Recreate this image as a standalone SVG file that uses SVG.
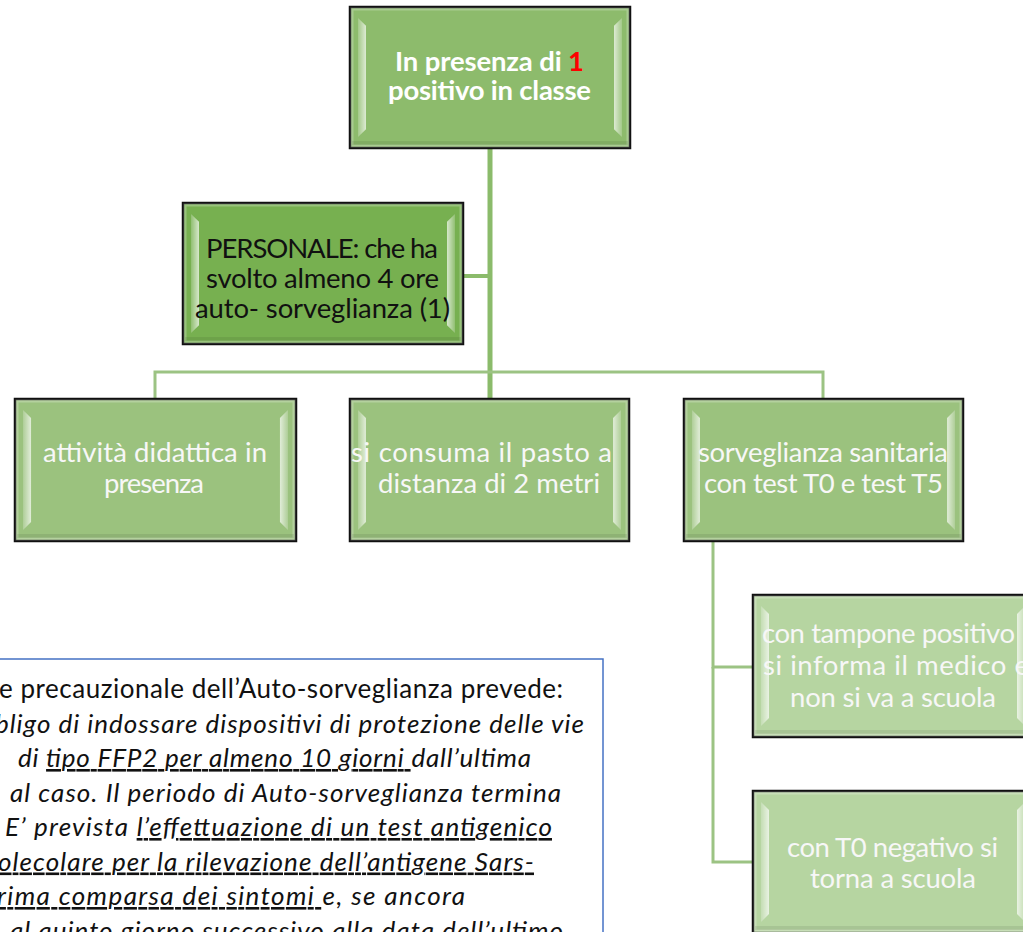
<svg xmlns="http://www.w3.org/2000/svg" xmlns:xlink="http://www.w3.org/1999/xlink" width="1023" height="932" viewBox="0 0 1023 932">
<style>
.box{stroke:#111;stroke-width:2.5}
.t{font-family:Lato,"Open Sans","Liberation Sans",sans-serif;font-size:27.5px}
.w{fill:#f7f7f7}
.k{fill:#111}
.b{font-weight:bold;fill:#fff}
.c{fill:none;stroke:#9cc383;stroke-width:3}
.bt{font-family:Lato,"Open Sans","Liberation Sans",sans-serif;font-size:26px;fill:#111}
.u{text-decoration:underline}
</style>
<defs>
<linearGradient id="gl" x1="0" y1="0" x2="1" y2="0">
<stop offset="0" stop-color="#fff" stop-opacity="0.2"/>
<stop offset="1" stop-color="#fff" stop-opacity="0.7"/>
</linearGradient>
<linearGradient id="gr" x1="1" y1="0" x2="0" y2="0">
<stop offset="0" stop-color="#fff" stop-opacity="0.2"/>
<stop offset="1" stop-color="#fff" stop-opacity="0.7"/>
</linearGradient>
<symbol id="bev" viewBox="0 0 280 142" preserveAspectRatio="none">
<rect x="2" y="2" width="276" height="138" fill="none" stroke="#fff" stroke-opacity="0.25" stroke-width="3"/>
<rect x="2" y="135" width="276" height="4" fill="#000" fill-opacity="0.08"/>
<polygon points="8,11 16,19 16,123 8,131" fill="url(#gl)"/>
<polygon points="272,11 264,19 264,123 272,131" fill="url(#gr)"/>
</symbol>
</defs>
<rect width="1023" height="932" fill="#fff"/>

<g id="connectors">
<line x1="490" y1="148" x2="490" y2="399" stroke="#8bbb6b" stroke-width="5"/>
<line x1="463" y1="276" x2="490" y2="276" stroke="#8bbb6b" stroke-width="4"/>
<polyline class="c" points="155,399 155,372 823,372 823,399"/>
<polyline class="c" points="753,667 713,667 713,541"/>
<polyline class="c" points="713,667 713,862 753,862"/>
</g>

<g id="n-top">
<rect class="box" x="350" y="7" width="280" height="141" fill="#8dbb6c"/>
<use xlink:href="#bev" x="350" y="7" width="280" height="141"/>
<text class="t b" x="395" y="71" textLength="189" font-size="28">In presenza di <tspan fill="#ff0000">1</tspan></text>
<text class="t b" x="388" y="100" textLength="203" font-size="28">positivo in classe</text>
</g>

<g id="n-personale">
<rect class="box" x="183" y="203" width="280" height="141" fill="#77b050"/>
<use xlink:href="#bev" x="183" y="203" width="280" height="141"/>
<text class="t k" x="206" y="258" textLength="232">PERSONALE: che ha</text>
<text class="t k" x="206" y="288" textLength="233">svolto almeno 4 ore</text>
<text class="t k" x="195" y="318" textLength="255">auto- sorveglianza (1)</text>
</g>

<g id="n-attivita">
<rect class="box" x="15" y="399" width="281" height="142" fill="#9bc27e"/>
<use xlink:href="#bev" x="15" y="399" width="281" height="142"/>
<text class="t w" x="43" y="462" textLength="224">attività didattica in</text>
<text class="t w" x="104" y="493" textLength="100">presenza</text>
</g>

<g id="n-pasto">
<rect class="box" x="350" y="399" width="279" height="142" fill="#9bc27e"/>
<use xlink:href="#bev" x="350" y="399" width="279" height="142"/>
<text class="t w" x="351" y="462" textLength="261">si consuma il pasto a</text>
<text class="t w" x="378" y="493" textLength="222">distanza di 2 metri</text>
</g>

<g id="n-sorveglianza">
<rect class="box" x="684" y="399" width="279" height="142" fill="#9bc27e"/>
<use xlink:href="#bev" x="684" y="399" width="279" height="142"/>
<text class="t w" x="698" y="462" textLength="250">sorveglianza sanitaria</text>
<text class="t w" x="704" y="493" textLength="239">con test T0 e test T5</text>
</g>

<g id="n-positivo">
<rect class="box" x="753" y="595" width="280" height="142" fill="#b6d5a1"/>
<use xlink:href="#bev" x="753" y="595" width="280" height="142"/>
<text class="t w" x="762" y="643" textLength="253">con tampone positivo</text>
<text class="t w" x="763" y="675" textLength="266">si informa il medico  e</text>
<text class="t w" x="790" y="707" textLength="206">non si va a scuola</text>
</g>

<g id="n-negativo">
<rect class="box" x="753" y="791" width="280" height="142" fill="#b6d5a1"/>
<use xlink:href="#bev" x="753" y="791" width="280" height="142"/>
<text class="t w" x="787" y="857" textLength="211">con T0 negativo si</text>
<text class="t w" x="810" y="888" textLength="166">torna a scuola</text>
</g>

<g id="note">
<rect x="-10" y="659" width="613" height="300" fill="#fff" stroke="#4472c4" stroke-width="1.5"/>
<text class="bt" x="-1" y="698" textLength="564">e precauzionale dell’Auto-sorveglianza prevede:</text>
<text class="bt" font-style="italic" x="-5" y="732.5" textLength="589">bligo di indossare dispositivi di protezione delle vie</text>
<text class="bt" font-style="italic" x="18" y="767" textLength="513">di <tspan class="u">tipo FFP2 per almeno 10 giorni </tspan>dall’ultima</text>
<text class="bt" font-style="italic" x="10" y="801.5" textLength="551">al caso. Il periodo di Auto-sorveglianza termina</text>
<text class="bt" font-style="italic" x="5" y="836" textLength="547">E’ prevista <tspan class="u">l’effettuazione di un test antigenico</tspan></text>
<text class="bt" font-style="italic" x="-2" y="870.5" textLength="536"><tspan class="u">olecolare per la rilevazione dell’antigene Sars-</tspan></text>
<text class="bt" font-style="italic" x="-3" y="905" textLength="468"><tspan class="u">rima comparsa dei sintomi </tspan>e, se ancora</text>
<text class="bt" font-style="italic" x="10" y="939.5" textLength="553">al quinto giorno successivo alla data dell’ultimo</text>
</g>
</svg>
